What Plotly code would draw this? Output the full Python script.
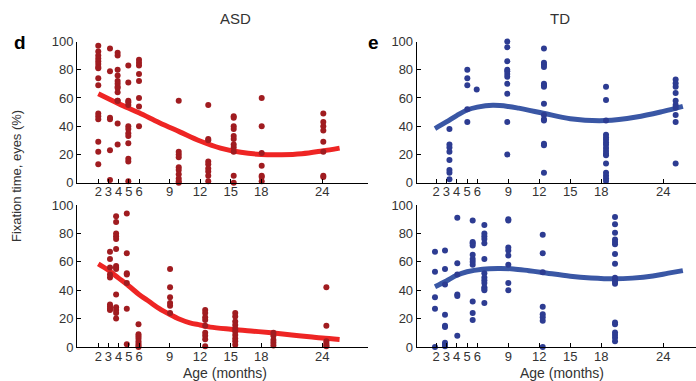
import plotly.graph_objects as go

# ---------------- data ----------------
# ASD, top panel
asd_top_ages = [2.0, 3.15, 3.9, 4.95, 6.0, 9.9, 12.8, 15.3, 18.05, 24.1]
asd_top_vals = [
    [97, 93, 90, 88, 86, 84, 82, 81, 74, 69, 49, 47, 45, 29, 22, 13],
    [95, 79, 46, 45, 23, 2],
    [92, 90, 80, 76, 72, 70, 68, 67, 64, 58, 58, 42, 27],
    [83, 71, 58, 57, 55, 40, 38, 35, 33, 28, 17, 15, 1],
    [87, 85, 83, 77, 72, 60, 54, 40],
    [58, 22, 20, 18, 11, 9, 6, 3, 1, 0],
    [55, 31, 30, 15, 13, 10, 8, 5, 1],
    [47, 46, 40, 38, 33, 31, 27, 25, 22, 5, 0],
    [60, 40, 21, 12, 5, 4, 1],
    [49, 43, 40, 37, 29, 22, 5, 4],
]
asd_top_fit_x = [2, 4, 6, 8, 10, 12, 14, 16, 18, 20, 22, 24, 25.7]
asd_top_fit_y = [63, 56, 49.5, 42.5, 36, 29.5, 24.5, 21.5, 20, 19.8, 20.5, 22.5, 24.5]

# ASD, bottom panel
asd_bot_ages = [3.15, 3.75, 4.8, 5.95, 9.05, 12.5, 15.45, 19.2, 24.4]
asd_bot_vals = [
    [67, 62, 56, 51, 49, 30, 28.5, 27, 26],
    [92, 88, 80, 78, 76, 69, 57, 56, 55, 37, 28, 26, 24, 20],
    [94, 66, 52, 51, 45, 27, 2],
    [16, 9, 7.5, 6, 4, 2.5, 1, 0],
    [55, 42, 35, 31, 29, 24],
    [26, 24, 21, 19, 15, 10, 8, 5.5, 0.5],
    [24, 21.5, 18, 15.5, 13, 11, 8.5, 6, 4, 1.5],
    [10, 8, 5, 3, 1],
    [42, 15, 4, 2.5, 1, 0.5],
]
asd_bot_fit_x = [2, 3, 4, 5, 6, 7, 8, 9, 10, 11, 12, 13, 15, 17, 19, 21, 23, 24, 25.7]
asd_bot_fit_y = [58.5, 54, 48.5, 43, 37, 32, 27, 23, 19.5, 17, 15.5, 14, 12.5, 11.3, 10, 8.5, 7, 6.3, 5.3]

# TD, top panel
td_top_ages = [3.3, 5.03, 5.94, 8.9, 12.45, 18.46, 25.2]
td_top_vals = [
    [38, 27, 25, 22, 16, 9, 7, 2.5],
    [80, 74, 69, 52, 43],
    [66],
    [100, 96, 86, 80, 79, 77, 75, 70, 63, 43, 20],
    [95, 85, 83.5, 82, 70, 69, 68, 56, 48, 45, 44, 27.5, 26.5, 7],
    [68, 58.5, 44, 34, 32, 30.5, 28.5, 26.8, 24.5, 22.5, 20.5, 19.5, 13.6, 7, 5, 3, 1.2],
    [73, 70.5, 68, 63.5, 58, 55, 53, 48, 43, 13.6],
]
td_top_fit_x = [1.9, 3, 4, 5, 6, 7.5, 9, 10, 12.4, 15, 18.4, 21.4, 24, 25.9]
td_top_fit_y = [38.3, 43, 47.5, 51.5, 53.5, 54.8, 54, 52.8, 49.2, 45.3, 44, 46.5, 50.5, 54]

# TD, bottom panel
td_bot_ages = [1.9, 2.87, 4.06, 5.55, 6.68, 9.0, 12.33, 19.33]
td_bot_vals = [
    [67, 53, 35, 27, 0],
    [68, 55, 44, 22.7, 15, 14, 3, 2, 0.5],
    [91, 59, 51, 37, 36, 8],
    [89, 74, 73, 71.5, 65, 62, 60, 58, 32, 24, 19],
    [86, 80, 78, 76, 73, 62, 52, 49, 47, 45, 42, 41, 40, 31],
    [90, 89, 70, 68, 64.5, 58, 45, 40],
    [79, 66, 52.7, 28.4, 23, 21, 18.5, 0],
    [91.5, 86.5, 80.4, 75.7, 74, 72.3, 65.5, 58.6, 48.7, 47.3, 46, 44.5, 17.3, 16, 10.2, 8.5, 6.6, 4],
]
td_bot_fit_x = [1.9, 3, 4, 5, 6.5, 8, 9.5, 11, 12.3, 15, 17, 19.3, 21, 23, 24.5, 25.9]
td_bot_fit_y = [42.5, 46.5, 50.5, 53, 54.8, 55.3, 55, 53.7, 52.5, 49.8, 48.6, 48, 48.5, 50, 52, 53.8]

x_ticks = [2, 3, 4, 5, 6, 9, 12, 15, 18, 24]
y_ticks = [0, 20, 40, 60, 80, 100]

# ---------------- styling ----------------
W, H = 696, 381
RED_DOT, RED_LINE = "#a01c20", "#ee2524"
BLUE_DOT, BLUE_LINE = "#2d3c92", "#3a57a5"
FONT = "Liberation Sans, Arial, sans-serif"
TXT = "#333333"


def flatten(ages, vals):
    xs, ys = [], []
    for a, vs in zip(ages, vals):
        for v in vs:
            xs.append(a)
            ys.append(v)
    return xs, ys


fig = go.Figure()

panels = [
    ("x", "y", asd_top_ages, asd_top_vals, asd_top_fit_x, asd_top_fit_y, RED_DOT, RED_LINE),
    ("x2", "y2", asd_bot_ages, asd_bot_vals, asd_bot_fit_x, asd_bot_fit_y, RED_DOT, RED_LINE),
    ("x3", "y3", td_top_ages, td_top_vals, td_top_fit_x, td_top_fit_y, BLUE_DOT, BLUE_LINE),
    ("x4", "y4", td_bot_ages, td_bot_vals, td_bot_fit_x, td_bot_fit_y, BLUE_DOT, BLUE_LINE),
]

for xa, ya, ages, vals, fx, fy, dc, lc in panels:
    xs, ys = flatten(ages, vals)
    fig.add_trace(go.Scatter(x=fx, y=fy, xaxis=xa, yaxis=ya, mode="lines",
                             line=dict(color=lc, width=5, shape="spline", smoothing=1.0),
                             cliponaxis=False, showlegend=False, hoverinfo="skip"))
    fig.add_trace(go.Scatter(x=xs, y=ys, xaxis=xa, yaxis=ya, mode="markers",
                             marker=dict(color=dc, size=6, line=dict(width=0)),
                             cliponaxis=False, showlegend=False))


def px_x(p):
    return p / W


def px_y(p):
    return (H - p) / H


left_dom = [px_x(77), px_x(368)]
right_dom = [px_x(416.7), 1.0]
top_dom = [px_y(182.7), px_y(41.5)]
bot_dom = [px_y(347), px_y(205)]

common_x = dict(showline=True, linecolor="black", linewidth=1, ticks="inside", ticklen=4,
                tickcolor="black", tickvals=x_ticks, ticktext=[str(t) for t in x_ticks],
                tickfont=dict(family=FONT, size=13, color=TXT), showgrid=False, zeroline=False,
                fixedrange=True, automargin=False, ticklabelstandoff=-3)
common_y = dict(showline=True, linecolor="black", linewidth=1, ticks="inside", ticklen=4,
                tickcolor="black", tickvals=y_ticks, range=[0, 100],
                tickfont=dict(family=FONT, size=13, color=TXT), showgrid=False, zeroline=False,
                fixedrange=True, automargin=False)

left_range = [-0.09, 28.49]
right_range = [0.13, 27.17]

fig.update_layout(
    template="none",
    width=W, height=H, autosize=False,
    margin=dict(l=0, r=0, t=0, b=0, pad=0),
    paper_bgcolor="white", plot_bgcolor="white",
    xaxis=dict(common_x, domain=left_dom, range=left_range, anchor="y"),
    yaxis=dict(common_y, domain=top_dom, anchor="x"),
    xaxis2=dict(common_x, domain=left_dom, range=left_range, anchor="y2"),
    yaxis2=dict(common_y, domain=bot_dom, anchor="x2"),
    xaxis3=dict(common_x, domain=right_dom, range=right_range, anchor="y3"),
    yaxis3=dict(common_y, domain=top_dom, anchor="x3"),
    xaxis4=dict(common_x, domain=right_dom, range=right_range, anchor="y4"),
    yaxis4=dict(common_y, domain=bot_dom, anchor="x4"),
    showlegend=False,
)

ann = [
    dict(text="ASD", x=px_x(235), y=px_y(18), font=dict(size=15)),
    dict(text="TD", x=px_x(560), y=px_y(18), font=dict(size=15)),
    dict(text="<b>d</b>", x=px_x(20), y=px_y(43), font=dict(size=19, color="black")),
    dict(text="<b>e</b>", x=px_x(373), y=px_y(43), font=dict(size=19, color="black")),
    dict(text="Age (months)", x=px_x(225), y=px_y(373), font=dict(size=14)),
    dict(text="Age (months)", x=px_x(562), y=px_y(373), font=dict(size=14)),
    dict(text="Fixation time, eyes (%)", x=px_x(16), y=px_y(176), textangle=-90, font=dict(size=13)),
]
for a in ann:
    f = dict(family=FONT, color=TXT)
    f.update(a.pop("font"))
    fig.add_annotation(xref="paper", yref="paper", xanchor="center", yanchor="middle",
                       showarrow=False, font=f, **a)

fig.write_html("out.html")
